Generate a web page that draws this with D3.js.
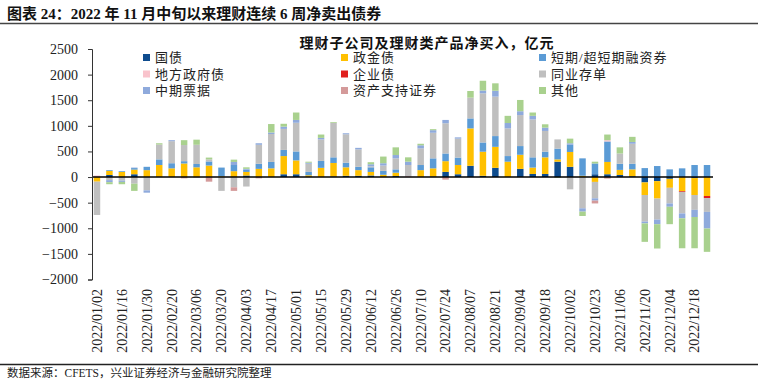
<!DOCTYPE html>
<html><head><meta charset="utf-8">
<script src="https://cdn.jsdelivr.net/npm/d3@7"></script>
<style>body{margin:0;background:#fff;} svg{display:block;}</style>
</head><body><svg id="c" width="766" height="387"></svg>
<script>
const categories = ["2022/01/02","2022/01/09","2022/01/16","2022/01/23","2022/01/30","2022/02/13","2022/02/20","2022/02/27","2022/03/06","2022/03/13",
"2022/03/20","2022/03/27","2022/04/03","2022/04/10","2022/04/17","2022/04/24","2022/05/01","2022/05/08","2022/05/15","2022/05/22",
"2022/05/29","2022/06/05","2022/06/12","2022/06/19","2022/06/26","2022/07/03","2022/07/10","2022/07/17","2022/07/24","2022/07/31",
"2022/08/07","2022/08/14","2022/08/21","2022/08/28","2022/09/04","2022/09/11","2022/09/18","2022/09/25","2022/10/02","2022/10/16",
"2022/10/23","2022/10/30","2022/11/06","2022/11/13","2022/11/20","2022/11/27","2022/12/04","2022/12/11","2022/12/18","2022/12/25"];

const seriesNames = ["国债","政金债","短期/超短期融资券","地方政府债","企业债","同业存单","中期票据","资产支持证券","其他"];
const seriesColors = ["#0E4C8E","#FFC000","#5B9BD5","#F9C3CC","#E0201E","#BFBFBF","#8FAADC","#D49A9A","#A9D18E"];

const guozhai   = [0,40,0,55,0,0,0,0,0,0, 0,0,30,0,0,55,55,0,0,10, 25,25,30,0,20,0,0,10,100,55, 220,25,180,0,160,60,60,300,200,0, 55,55,40,15,-105,-80,-35,0,-20,0];
const zhengjin  = [-90,80,100,90,135,235,170,265,190,225, 15,115,70,160,170,355,270,35,180,265, 165,110,70,45,65,0,135,160,210,180, 730,470,410,300,275,125,325,45,290,25, -95,240,100,135,-245,-340,-175,-275,-330,-370];
const duanrong  = [0,15,15,30,65,110,100,45,65,80, 170,120,45,100,125,120,175,65,135,110, 90,65,90,75,65,0,100,195,150,145, 195,180,210,110,170,200,110,210,140,340, 210,400,120,110,175,215,150,170,235,235];
const difang    = [30,0,0,0,0,0,0,0,0,0, 0,0,0,0,0,0,0,0,0,0, 0,0,0,0,0,20,0,0,0,0, 0,0,0,0,0,0,0,0,0,0, 0,25,0,0,0,0,0,0,0,0];
const qiye      = [0,0,0,0,0,0,0,0,0,0, 0,0,0,0,0,0,0,0,0,0, 0,0,0,0,0,0,0,0,0,0, 0,0,0,0,0,0,0,0,0,0, 0,0,0,0,0,0,0,-15,0,-40];
const cunDan    = [-650,-60,-70,-130,-260,290,430,315,375,40, -270,-200,-185,370,545,410,560,160,420,675, 555,340,20,105,215,215,325,500,590,370, 405,960,770,540,605,740,405,180,-240,-610, -320,0,200,390,-520,-410,-305,-420,-290,-270];
const zhongPiao = [0,-40,-25,10,-45,0,20,0,0,0, 0,60,15,30,30,45,55,20,30,0, 20,30,40,45,65,65,60,50,65,25, 0,55,115,105,75,70,65,0,30,-65, -45,0,0,35,-35,-90,-65,-95,-140,-325];
const abs       = [0,0,0,0,0,0,0,-25,-10,-90, 0,-70,0,-25,0,0,0,0,0,0, 0,0,0,0,0,0,0,0,-50,0, 0,0,0,0,0,0,0,0,0,0, -55,-30,0,0,0,0,0,0,0,0];
const qita      = [0,-40,-45,-140,0,25,0,95,100,35, 0,45,30,0,165,55,145,20,65,15, 0,0,40,130,150,85,30,20,0,0, 130,190,145,140,220,65,65,-15,90,-85, 35,110,120,100,-360,-475,-340,-585,-610,-455];

const seriesValues = [guozhai, zhengjin, duanrong, difang, qiye, cunDan, zhongPiao, abs, qita];
const yTicks = [-2000,-1500,-1000,-500,0,500,1000,1500,2000,2500];

const svg = d3.select("#c");
const cjk = "'Liberation Serif','Noto Sans CJK SC',serif";

// header
svg.append("text").attr("x",7).attr("y",19).attr("font-family",cjk).attr("font-weight","bold")
  .attr("font-size",15).attr("fill","#111").text("图表 24：2022 年 11 月中旬以来理财连续 6 周净卖出债券");
svg.append("line").attr("x1",0).attr("x2",758).attr("y1",23.5).attr("y2",23.5).attr("stroke","#444").attr("stroke-width",1.3);
svg.append("line").attr("x1",0).attr("x2",758).attr("y1",364.5).attr("y2",364.5).attr("stroke","#222").attr("stroke-width",1.5);
svg.append("text").attr("x",7).attr("y",377).attr("font-family",cjk)
  .attr("font-size",11.5).attr("fill","#222").text("数据来源：CFETS，兴业证券经济与金融研究院整理");

// scales
const x = d3.scaleBand().domain(categories).range([91.5,712.5]).paddingInner(0.48).paddingOuter(0.18);
const y = d3.scaleLinear().domain([-2000,2500]).range([279.5,49]);

const table = categories.map((c,i)=>{
  const row = {cat:c};
  seriesNames.forEach((n,k)=>row[n]=seriesValues[k][i]);
  return row;
});
const stacked = d3.stack().keys(seriesNames).offset(d3.stackOffsetDiverging)(table);

const gBars = svg.append("g");
stacked.forEach((layer,k)=>{
  gBars.append("g").attr("fill",seriesColors[k]).selectAll("rect").data(layer).join("rect")
    .attr("x",d=>x(d.data.cat)).attr("width",x.bandwidth())
    .attr("y",d=>y(Math.max(d[0],d[1]))).attr("height",d=>Math.abs(y(d[0])-y(d[1])));
});

// zero line
svg.append("line").attr("x1",92).attr("x2",713).attr("y1",y(0)).attr("y2",y(0)).attr("stroke","#000").attr("stroke-width",1.5);

// y axis
const ya = svg.append("g").attr("transform","translate(92,0)")
  .call(d3.axisLeft(y).tickValues(yTicks).tickSize(4).tickPadding(10).tickFormat(d3.format("d")));
ya.select(".domain").attr("stroke","#333");
ya.selectAll(".tick line").attr("stroke","#333");
ya.selectAll("text").attr("font-family","'Liberation Serif',serif").attr("font-size",14).attr("fill","#222");

// x axis labels
const xa = svg.append("g").attr("transform","translate(0,289)")
  .call(d3.axisBottom(x).tickValues(categories.filter((d,i)=>i%2===0)).tickSize(0).tickPadding(0));
xa.select(".domain").remove();
xa.selectAll("text").attr("transform","rotate(-90)").attr("text-anchor","end").attr("x",0).attr("y",0).attr("dy","0.35em")
  .attr("font-family","'Liberation Serif',serif").attr("font-size",14).attr("fill","#222");

// chart title
svg.append("text").attr("x",427).attr("y",48).attr("text-anchor","middle").attr("font-family",cjk).attr("font-weight","bold")
  .attr("font-size",14).attr("letter-spacing",1).attr("fill","#111").text("理财子公司及理财类产品净买入，亿元");

// legend
const colX = [143,341,539], rowY = [57.5,74,90.5];
const lg = svg.append("g");
seriesNames.forEach((n,k)=>{
  const cx = colX[k%3], cy = rowY[Math.floor(k/3)];
  lg.append("rect").attr("x",cx).attr("y",cy-3.5).attr("width",7).attr("height",7).attr("fill",seriesColors[k]);
  lg.append("text").attr("x",cx+12).attr("y",cy).attr("dy","0.36em").attr("font-family",cjk)
    .attr("font-size",13).attr("letter-spacing",1).attr("fill","#222").text(n);
});
</script></body></html>
